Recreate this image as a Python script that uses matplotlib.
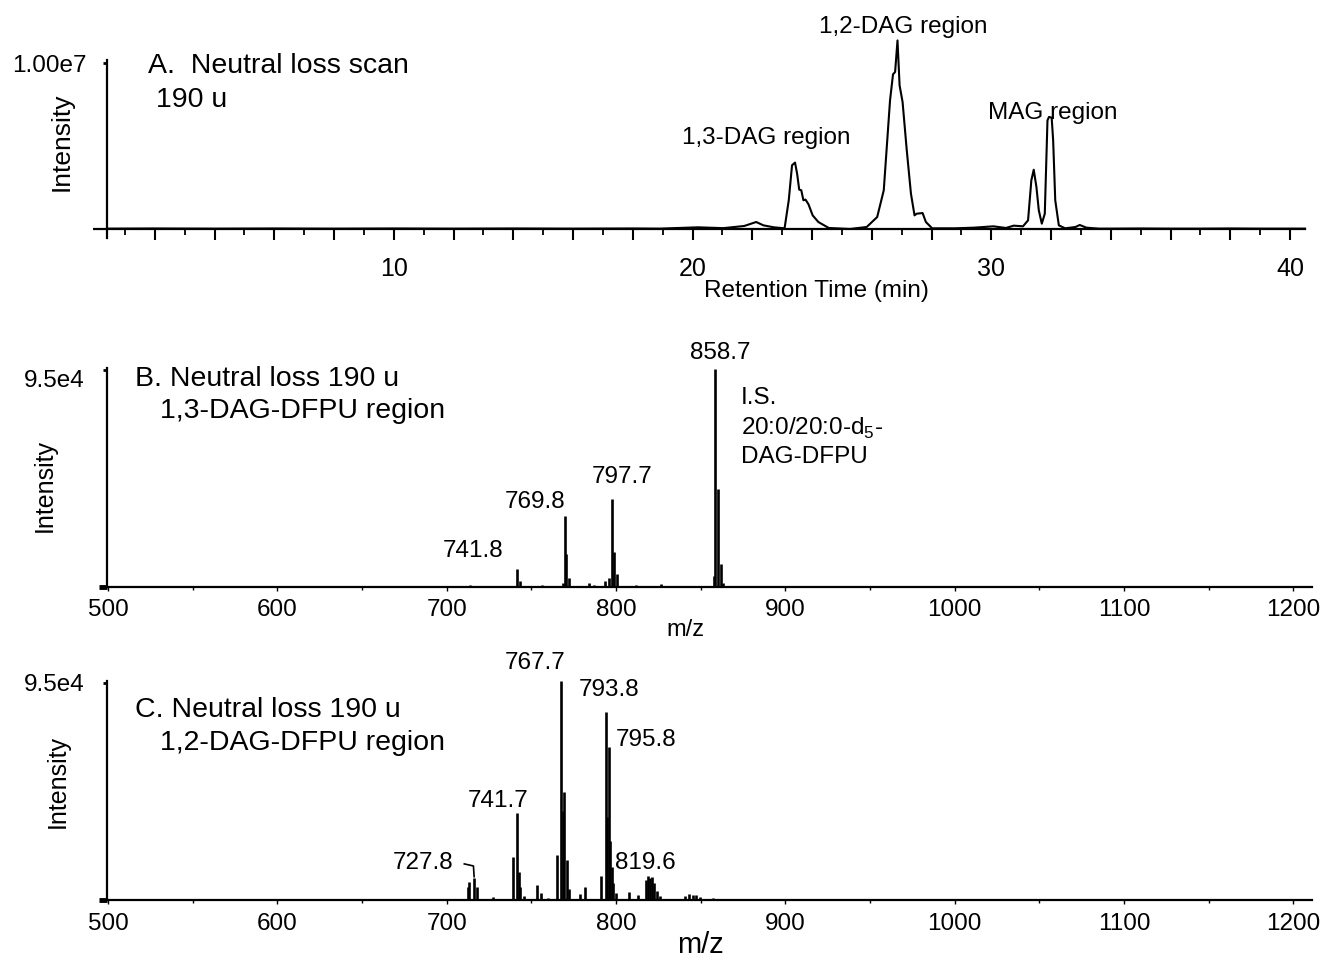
import matplotlib
matplotlib.use('Agg')
import matplotlib.pyplot as plt
from matplotlib.transforms import ScaledTranslation

plt.rcParams['font.family'] = ['Liberation Sans', 'DejaVu Sans']
plt.rcParams['mathtext.fontset'] = 'custom'
plt.rcParams['mathtext.rm'] = 'Liberation Sans'

# ---------------- Panel A: neutral loss chromatogram (intensity in 1e6 counts)
rt_min = [0.4, 2, 4, 6, 8, 10, 12, 14, 16, 18, 18.9, 20.18, 21.03, 21.73, 22.13, 22.37,
          22.72, 23.08, 23.22, 23.33, 23.43, 23.50, 23.57, 23.64, 23.71, 23.78, 23.88,
          24.02, 24.21, 24.56, 25.27, 25.83, 26.18, 26.40, 26.61, 26.71, 26.78, 26.86,
          26.93, 27.03, 27.17, 27.31, 27.43, 27.50, 27.70, 27.81, 28.02, 28.80, 29.43,
          30.07, 30.49, 30.75, 31.06, 31.23, 31.34, 31.42, 31.51, 31.59, 31.69, 31.79,
          31.88, 31.93, 32.02, 32.07, 32.14, 32.26, 32.47, 32.82, 32.96, 33.18, 33.60,
          34, 35, 36, 37, 38, 39, 40, 40.5]
nl_intensity_1e6 = [0.02, 0.03, 0.02, 0.03, 0.02, 0.03, 0.02, 0.03, 0.02, 0.03, 0.02, 0.10,
                    0.05, 0.18, 0.42, 0.22, 0.10, 0.04, 1.73, 3.84, 4.00, 3.33, 2.37, 2.33,
                    1.73, 1.77, 1.49, 0.82, 0.42, 0.06, 0.0, 0.12, 0.72, 2.33, 7.75, 9.32,
                    9.46, 11.36, 8.65, 7.65, 4.74, 2.13, 0.82, 0.92, 0.96, 0.42, 0.04, 0.04,
                    0.08, 0.16, 0.06, 0.20, 0.16, 0.52, 2.93, 3.57, 2.53, 1.12, 0.32, 0.92,
                    6.54, 6.75, 6.71, 5.35, 1.73, 0.22, 0.04, 0.12, 0.24, 0.08, 0.02,
                    0.02, 0.03, 0.02, 0.02, 0.03, 0.02, 0.02, 0.02]
rt_tick_labels = [10, 20, 30, 40]

# ---------------- Panel B: 1,3-DAG-DFPU region spectrum
mz_b = [573, 713.9, 730.5, 741.8, 743.3, 756.1, 768.5, 769.8, 770.5, 772.0, 783.8, 787.0,
        793.5, 796.0, 797.7, 799.0, 800.4, 811.8, 820.5, 826.6, 830.5, 845.3, 857.7,
        858.7, 860.1, 861.7, 862.9]
int_b = [500, 700, 400, 7700, 2800, 1000, 1900, 31200, 14500, 3800, 1700, 1000,
         2800, 3800, 38700, 15200, 5700, 800, 500, 1400, 500, 500, 4800,
         95300, 43000, 10200, 1900]
peak_labels_b = ['858.7', '797.7', '769.8', '741.8']

# ---------------- Panel C: 1,2-DAG-DFPU region spectrum
mz_c = [684.6, 699, 712.5, 713.4, 716.1, 717.7, 727.2, 739.4, 741.7, 742.5, 743.5, 745.5,
        753.2, 755.6, 760, 765.4, 767.7, 768.5, 769.3, 770.9, 772.5, 778.8, 781.8, 791.2,
        793.8, 794.5, 795.8, 796.5, 797.5, 798.5, 800, 807.9, 813.2, 817.8, 819.0, 820.1,
        821.3, 822.5, 824.1, 825.7, 840.8, 843, 845.5, 847.5, 849.7, 857, 865, 872, 879]
int_c = [500, 400, 5800, 8000, 9500, 5800, 1500, 19000, 38000, 12400, 5700, 1900,
         6600, 2900, 1000, 19700, 96000, 39000, 47400, 17500, 5000, 2500, 5800, 10500,
         82500, 36500, 67000, 26000, 14600, 7600, 3000, 3400, 2100, 8600, 10500, 9500,
         10000, 7600, 3800, 1900, 1900, 2800, 2400, 2000, 1500, 800, 600, 500, 500]
peak_labels_c = ['767.7', '793.8', '795.8', '741.7', '727.8', '819.6']

mz_ticks = [500, 600, 700, 800, 900, 1000, 1100, 1200]

fig = plt.figure(figsize=(13.21, 9.63), dpi=100)
W, H = 1321.0, 963.0

def fx(px):
    return px / W

def fy(py):
    return 1 - py / H

SPINE_LW = 1.6
TXT = 17.5
TITLE = 20.5

# ---------------- Axes A
axA = fig.add_axes([fx(107), fy(238.1), 1198 / W, 178.4 / H])
axA.plot(rt_min, [v * 1e6 for v in nl_intensity_1e6], color='k', lw=1.5, clip_on=False)
axA.set_xlim(0.4, 40.5)
axA.set_ylim(-0.55e6, 1.02e7)
for s in ['top', 'right']:
    axA.spines[s].set_visible(False)
axA.spines['bottom'].set_position(('data', 0))
axA.spines['bottom'].set_linewidth(SPINE_LW)
axA.spines['left'].set_linewidth(SPINE_LW)
axA.set_xticks(list(range(2, 41, 2)))
axA.set_xticklabels([str(v) if v in rt_tick_labels else '' for v in range(2, 41, 2)])
axA.set_xticks(list(range(1, 41, 1)), minor=True)
axA.tick_params(axis='x', which='major', length=8, width=1.5, direction='out',
                labelsize=18, pad=12)
axA.tick_params(axis='x', which='minor', length=4, width=1.3, direction='out')
axA.set_yticks([1e7])
axA.set_yticklabels(['1.00e7'])
axA.set_yticks([0], minor=True)
axA.tick_params(axis='y', which='major', length=3, width=2, labelsize=17.5, pad=12)
axA.tick_params(axis='y', which='minor', length=10, width=1.6)

axA.text(1.76, 9.82e6, 'A.  Neutral loss scan', fontsize=TITLE, ha='left', va='center')
axA.text(2.03, 7.77e6, '190 u', fontsize=TITLE, ha='left', va='center')
axA.text(22.45, 5.48e6, '1,3-DAG region', fontsize=TXT, ha='center', va='center')
axA.text(27.05, 12.17e6, '1,2-DAG region', fontsize=TXT, ha='center', va='center')
axA.text(32.06, 6.99e6, 'MAG region', fontsize=TXT, ha='center', va='center')
axA.text(24.14, -3.73e6, 'Retention Time (min)', fontsize=TXT, ha='center', va='center')
fig.text(fx(62), fy(142), 'Intensity', rotation=90, fontsize=19, ha='center', va='center')


def spectrum_axes(bottom_px, mz, inten):
    ax = fig.add_axes([fx(107), fy(bottom_px), 1205 / W, 219.3 / H])
    ax.vlines(mz, 0, inten, color='k', lw=1.9)
    ax.set_xlim(499.4, 1211)
    ax.set_ylim(0, 9.6e4)
    for s in ['top', 'right']:
        ax.spines[s].set_visible(False)
    ax.spines['bottom'].set_linewidth(SPINE_LW)
    ax.spines['left'].set_linewidth(SPINE_LW)
    ax.set_xticks(mz_ticks)
    ax.set_xticks(list(range(550, 1201, 100)), minor=True)
    ax.tick_params(axis='x', which='major', length=3, width=1, labelsize=17.5, pad=6)
    ax.tick_params(axis='x', which='minor', length=2, width=1)
    ax.set_yticks([9.5e4])
    ax.set_yticklabels(['9.5e4'])
    ax.set_yticks([0], minor=True)
    ax.tick_params(axis='y', which='major', length=3, width=2, labelsize=17.5, pad=13)
    ax.tick_params(axis='y', which='minor', length=6, width=3.5)
    return ax

# ---------------- Axes B
axB = spectrum_axes(587, mz_b, int_b)
for lbl in axB.get_yticklabels():
    lbl.set_transform(lbl.get_transform() + ScaledTranslation(0, -0.09, fig.dpi_scale_trans))
axB.text(516, 9.11e4, 'B. Neutral loss 190 u', fontsize=TITLE, ha='left', va='center')
axB.text(530.7, 7.71e4, '1,3-DAG-DFPU region', fontsize=TITLE, ha='left', va='center')
axB.text(861.5, 1.024e5, peak_labels_b[0], fontsize=TXT, ha='center', va='center')
axB.text(803.4, 4.83e4, peak_labels_b[1], fontsize=TXT, ha='center', va='center')
axB.text(752.2, 3.72e4, peak_labels_b[2], fontsize=TXT, ha='center', va='center')
axB.text(715.4, 1.58e4, peak_labels_b[3], fontsize=TXT, ha='center', va='center')
axB.text(873.7, 8.27e4, 'I.S.', fontsize=TXT, ha='left', va='center')
axB.text(873.7, 6.96e4, '20:0/20:0-d$_5$-', fontsize=TXT, ha='left', va='center')
axB.text(873.7, 5.69e4, 'DAG-DFPU', fontsize=TXT, ha='left', va='center')
axB.text(840.8, -1.88e4, 'm/z', fontsize=17, ha='center', va='center')
fig.text(fx(45), fy(485), 'Intensity', rotation=90, fontsize=18, ha='center', va='center')

# ---------------- Axes C
axC = spectrum_axes(900, mz_c, int_c)
axC.text(516, 8.32e4, 'C. Neutral loss 190 u', fontsize=TITLE, ha='left', va='center')
axC.text(530.7, 6.87e4, '1,2-DAG-DFPU region', fontsize=TITLE, ha='left', va='center')
axC.text(752.2, 1.0376e5, peak_labels_c[0], fontsize=TXT, ha='center', va='center')
axC.text(795.9, 9.19e4, peak_labels_c[1], fontsize=TXT, ha='center', va='center')
axC.text(817.5, 7.0e4, peak_labels_c[2], fontsize=TXT, ha='center', va='center')
axC.text(730.1, 4.35e4, peak_labels_c[3], fontsize=TXT, ha='center', va='center')
axC.text(686.2, 1.61e4, peak_labels_c[4], fontsize=TXT, ha='center', va='center')
axC.text(817.5, 1.61e4, peak_labels_c[5], fontsize=TXT, ha='center', va='center')
axC.plot([710.4, 715.8, 716.2], [1.58e4, 1.49e4, 1.02e4], color='k', lw=1.2)
axC.text(849.7, -1.97e4, 'm/z', fontsize=21, ha='center', va='center')
fig.text(fx(58), fy(781), 'Intensity', rotation=90, fontsize=18, ha='center', va='center')

fig.savefig('out.png', dpi=100)
